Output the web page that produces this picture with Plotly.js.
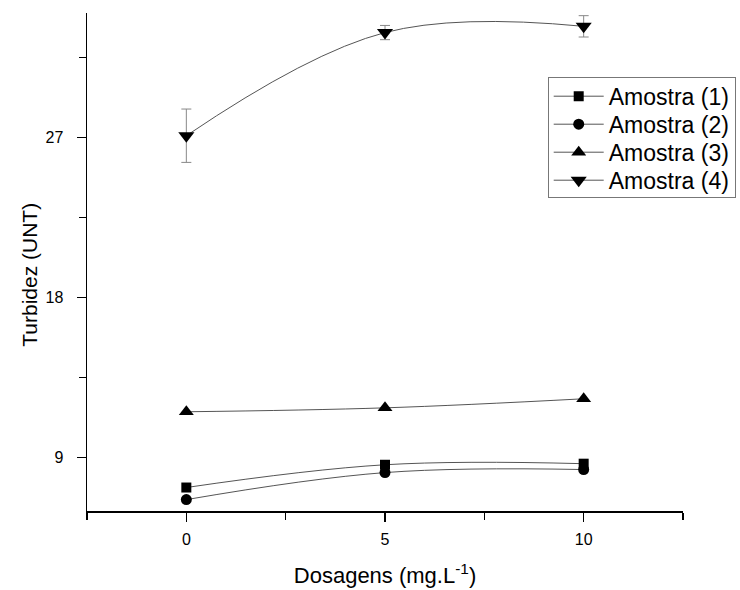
<!DOCTYPE html>
<html>
<head>
<meta charset="utf-8">
<script src="https://cdn.plot.ly/plotly-3.0.1.min.js"></script>
<style>html,body{margin:0;padding:0;background:#fff;}#chart{width:740px;height:590px;}</style>
</head>
<body>
<div id="chart"></div>
<script>
const dosagens = [0, 5, 10];
const seriesNames = ["Amostra (1)", "Amostra (2)", "Amostra (3)", "Amostra (4)"];
const amostra1 = [7.32, 8.6, 8.66];
const amostra2 = [6.64, 8.16, 8.33];
const amostra3 = [11.58, 11.8, 12.31];
const amostra4 = [27.1, 32.9, 33.25];
const amostra4Err = [1.5, 0.4, 0.6];
const symbols = ["square", "circle", "triangle-up", "triangle-down"];
const yTickVals = [9, 18, 27];
const xTickVals = [0, 5, 10];

const allValues = [amostra1, amostra2, amostra3, amostra4];
const sizes = [10, 11, 13, 14];
const traces = allValues.map((vals, i) => {
  const t = {
    x: dosagens, y: vals, name: seriesNames[i],
    type: "scatter", mode: "lines+markers",
    line: {shape: "spline", smoothing: 1.1, color: "#555", width: 1},
    marker: {symbol: symbols[i], color: "#000", size: sizes[i]}
  };
  if (i === 3) {
    t.error_y = {type: "data", array: amostra4Err, visible: true, color: "#888", thickness: 1, width: 5};
  }
  return t;
});

const layout = {
  width: 740, height: 590,
  margin: {l: 87, r: 57, t: 13, b: 78.5, autoexpand: false},
  paper_bgcolor: "#fff", plot_bgcolor: "#fff",
  font: {family: "Liberation Sans, Arial, sans-serif", color: "#000"},
  showlegend: true,
  legend: {
    x: 0.773, y: 0.872, xanchor: "left", yanchor: "top",
    bordercolor: "#777", borderwidth: 1, bgcolor: "#fff",
    font: {size: 23, family: "Liberation Sans, Arial, sans-serif"},
    itemwidth: 50, tracegroupgap: 0
  },
  xaxis: {
    range: [-2.5, 12.5], tickvals: xTickVals, ticks: "outside", ticklen: 9, tickwidth: 1.5,
    tickcolor: "#000", showline: true, linecolor: "#000", linewidth: 1.5,
    showgrid: false, zeroline: false, tickfont: {size: 16}, ticklabelstandoff: 4,
    minor: {tickvals: [-2.5, 2.5, 7.5, 12.5], ticks: "outside", ticklen: 7, tickwidth: 1.5, tickcolor: "#000", showgrid: false},
    title: {text: "Dosagens (mg.L<sup>-1</sup>)", font: {size: 22}, standoff: 21}
  },
  yaxis: {
    range: [6, 34], tickvals: yTickVals, ticks: "outside", ticklen: 9, tickwidth: 1.5,
    tickcolor: "#000", showline: true, linecolor: "#000", linewidth: 1.5,
    showgrid: false, zeroline: false, tickfont: {size: 16}, ticklabelstandoff: 10,
    minor: {tickvals: [13.5, 22.5, 31.5], ticks: "outside", ticklen: 7, tickwidth: 1.5, tickcolor: "#000", showgrid: false}
  },
  annotations: [{
    text: "Turbidez (UNT)", textangle: -90, xref: "paper", yref: "paper",
    x: -57 / 596, y: (511.5 - 275) / 498.5, xanchor: "center", yanchor: "middle",
    showarrow: false, font: {size: 21}
  }]
};

Plotly.newPlot("chart", traces, layout, {displayModeBar: false, staticPlot: true}).then(() => {
  // tighten legend row spacing to match the reference
  const items = Array.from(document.querySelectorAll(".legend .traces"));
  if (items.length < 2) return;
  const parse = el => {
    const m = /translate\(\s*([-\d.]+)[ ,]+([-\d.]+)\s*\)/.exec(el.getAttribute("transform") || "");
    return m ? [parseFloat(m[1]), parseFloat(m[2])] : null;
  };
  const p0 = parse(items[0]), p1 = parse(items[1]);
  if (!p0 || !p1) return;
  const oldStep = p1[1] - p0[1];
  const newStep = 28;
  const shift = 3;
  items.forEach((el, i) => {
    const p = parse(el);
    el.setAttribute("transform", "translate(" + p[0] + "," + (p0[1] - shift + i * newStep) + ")");
  });
  const bg = document.querySelector(".legend .bg");
  if (bg) {
    const h = parseFloat(bg.getAttribute("height"));
    bg.setAttribute("height", h - (items.length - 1) * (oldStep - newStep) - shift - 5);
  }
});
</script>
</body>
</html>
